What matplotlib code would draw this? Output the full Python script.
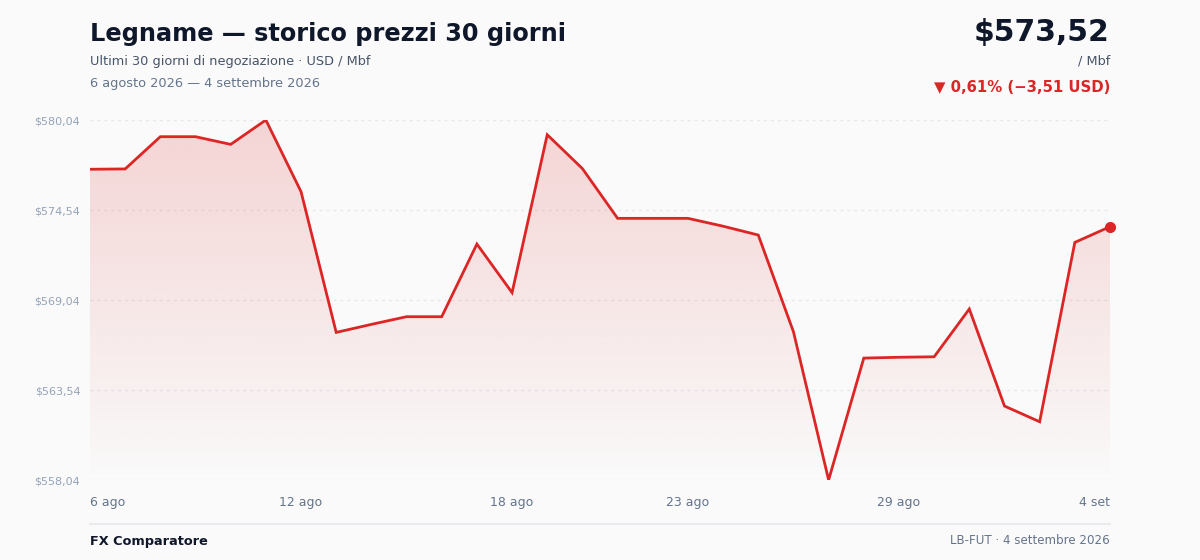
import numpy as np
import matplotlib
matplotlib.use("Agg")
import matplotlib.pyplot as plt
from matplotlib.colors import LinearSegmentedColormap
from matplotlib.patches import PathPatch
from matplotlib.path import Path
from matplotlib.transforms import blended_transform_factory

# data
prices = [577.03, 577.05, 579.02, 579.02, 578.55, 580.04, 575.66, 567.06, 567.55, 568.02,
          568.02, 572.46, 569.49, 579.14, 577.07, 574.03, 574.03, 574.03, 573.55, 573.01,
          567.10, 558.04, 565.49, 565.54, 565.57, 568.49, 562.56, 561.60, 572.56, 573.52]
tick_idx = [0, 6, 12, 17, 23, 29]
tick_labels = ["6 ago", "12 ago", "18 ago", "23 ago", "29 ago", "4 set"]

title = "Legname — storico prezzi 30 giorni"
subtitle = "Ultimi 30 giorni di negoziazione · USD / Mbf"
date_range = "6 agosto 2026 — 4 settembre 2026"
last_price = "$573,52"
unit = "/ Mbf"
change = "▼ 0,61% (−3,51 USD)"
footer_left = "FX Comparatore"
footer_right = "LB-FUT · 4 settembre 2026"

RED = "#dc2626"
BG = "#fafafa"
W, H = 1200, 560


def fy(py):
    # pixel row -> figure fraction
    return 1 - py / H


def fx(px):
    return px / W


def fmt(v):
    return "$" + f"{v:.2f}".replace(".", ",")


fig = plt.figure(figsize=(12, 5.6), dpi=100, facecolor=BG)
ax = fig.add_axes([fx(90), fy(480), fx(1110) - fx(90), fy(120) - fy(480)])
ax.set_facecolor(BG)

x = np.arange(len(prices))
y = np.array(prices)
ymin, ymax = min(prices), max(prices)
ax.set_xlim(0, len(prices) - 1)
ax.set_ylim(ymin, ymax)

# gradient fill under the line, fading out just above the bottom
r, g, b = 220/255, 38/255, 38/255
cmap = LinearSegmentedColormap.from_list(
    "fade", [(0.0, (r, g, b, 0.0)), (0.08, (r, g, b, 0.02)), (1.0, (r, g, b, 0.18))])
grad = np.linspace(0, 1, 256).reshape(-1, 1)
img = ax.imshow(grad, extent=[0, len(prices) - 1, ymin, ymax], origin="lower",
                aspect="auto", cmap=cmap, zorder=1)
verts = [(0, ymin)] + list(zip(x, y)) + [(len(prices) - 1, ymin), (0, ymin)]
clip = PathPatch(Path(verts), transform=ax.transData, facecolor="none", edgecolor="none")
ax.add_patch(clip)
img.set_clip_path(clip)

ax.plot(x, y, color=RED, lw=2, zorder=3, solid_joinstyle="miter")
ax.plot(x[-1], y[-1], "o", color=RED, ms=7, zorder=4, clip_on=False)

# grid
yticks = np.linspace(ymin, ymax, 5)
for t in yticks:
    ax.axhline(t, color="#e5e7eb", lw=1, ls=(0, (2, 3)), zorder=0)
ax.set_yticks(yticks)
ax.set_yticklabels([fmt(t) for t in yticks])
ax.tick_params(axis="y", length=0, pad=7, labelsize=8, labelcolor="#94a3b8")
ax.set_xticks([])
xlab_tr = blended_transform_factory(ax.transData, fig.transFigure)
for i, lab in zip(tick_idx, tick_labels):
    ha = "left" if i == 0 else ("right" if i == len(prices) - 1 else "center")
    ax.text(i, fy(506), lab, transform=xlab_tr, ha=ha, va="baseline",
            fontsize=9, color="#64748b")
for s in ax.spines.values():
    s.set_visible(False)

# header
fig.text(fx(90), fy(34), title, fontsize=17.3, fontweight="bold", color="#0f172a", va="center")
fig.text(fx(90), fy(61), subtitle, fontsize=9.3, color="#475569", va="center")
fig.text(fx(90), fy(83), date_range, fontsize=9.3, color="#64748b", va="center")
fig.text(fx(1110), fy(33), last_price, fontsize=21.5, fontweight="bold", color="#0f172a",
         va="center", ha="right")
fig.text(fx(1110), fy(61), unit, fontsize=9.3, color="#475569", va="center", ha="right")
fig.text(fx(1110), fy(87), change, fontsize=10.7, fontweight="bold", color=RED,
         va="center", ha="right")

# footer
fig.add_artist(plt.Line2D([fx(90), fx(1110)], [fy(524), fy(524)], color="#e5e7eb", lw=1.2,
                          transform=fig.transFigure))
fig.text(fx(90), fy(541), footer_left, fontsize=9.3, fontweight="bold", color="#0f172a", va="center")
fig.text(fx(1110), fy(541), footer_right, fontsize=8.6, color="#64748b", va="center", ha="right")

fig.savefig("out.png", dpi=100, facecolor=BG)
